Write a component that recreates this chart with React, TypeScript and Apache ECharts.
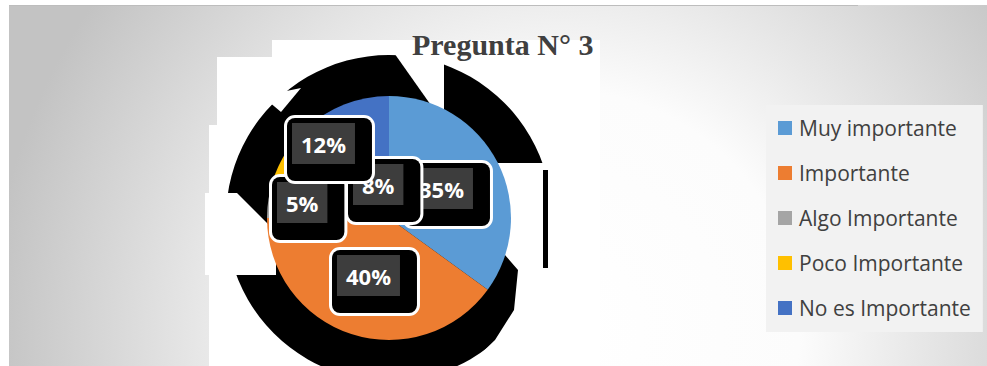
import React, { useEffect, useRef } from "react";
import * as echarts from "echarts";

const categories = ["Muy importante", "Importante", "Algo Importante", "Poco Importante", "No es Importante"];
const percentages = [35, 40, 5, 8, 12];
const colors = ["#5B9BD5", "#ED7D31", "#A5A5A5", "#FFC000", "#4472C4"];
const titleText = "Pregunta N° 3";

// label box top-left positions (layout only)
const LABEL_POS: [number, number][] = [
  [405, 163],
  [332, 250],
  [272, 177],
  [348, 159],
  [287, 118],
];

export default function App() {
  const ref = useRef<HTMLDivElement>(null);
  useEffect(() => {
    if (!ref.current) return;
    const chart = echarts.init(ref.current, undefined, { renderer: "svg" });
    const cx = 389;
    const cy = 218;
    chart.setOption({
      animation: false,
      graphic: [
        {
          type: "rect",
          z: 0,
          shape: { x: 9, y: 5, width: 978, height: 361 },
          style: {
            fill: {
              type: "radial",
              x: 560,
              y: 330,
              r: 570,
              global: true,
              colorStops: [
                { offset: 0, color: "#ffffff" },
                { offset: 0.42, color: "#fcfcfc" },
                { offset: 1, color: "#c3c3c3" },
              ],
            },
          },
        },
        { type: "line", z: 0, shape: { x1: 9, y1: 5.5, x2: 858, y2: 5.5 }, style: { stroke: "#bdbdbd", lineWidth: 1 } },
        // white panel behind pie
        {
          type: "polygon",
          z: 1,
          shape: {
            points: [
              [272, 40], [600, 40], [600, 366], [209, 366], [209, 125], [217, 125], [217, 57], [272, 57],
            ],
          },
          style: { fill: "#ffffff" },
        },
        // black shadow artefact
        { type: "circle", z: 2, shape: { cx, cy, r: 163 }, style: { fill: "#000000" } },
        // white cut-outs
        { type: "polygon", z: 3, shape: { points: [[392, 50], [444, 50], [444, 122], [440, 118]] }, style: { fill: "#ffffff" } },
        {
          type: "polygon",
          z: 3,
          shape: {
            points: [[488, 163], [600, 163], [600, 366], [468, 366], [495, 340], [514, 310], [518, 270], [505, 255], [488, 255]],
          },
          style: { fill: "#ffffff" },
        },
        { type: "polygon", z: 3, shape: { points: [[205, 193], [237, 193], [276, 232], [276, 275], [205, 275]] }, style: { fill: "#ffffff" } },
        { type: "polygon", z: 3, shape: { points: [[262, 96], [301, 88], [281, 112]] }, style: { fill: "#ffffff" } },
        { type: "rect", z: 4, shape: { x: 543, y: 170, width: 5, height: 98 }, style: { fill: "#000000" } },
        {
          type: "text",
          z: 30,
          x: 412,
          y: 29,
          style: {
            text: titleText,
            fill: "#404040",
            font: "bold 30px 'Liberation Serif', 'Times New Roman', serif",
            textVerticalAlign: "top",
          },
        },
      ],
      legend: {
        orient: "vertical",
        left: 766,
        top: 105,
        padding: [11, 12, 12, 12],
        backgroundColor: "#f2f2f2",
        itemWidth: 14,
        itemHeight: 14,
        itemGap: 21,
        icon: "rect",
        selectedMode: false,
        z: 30,
        data: categories,
        textStyle: {
          fontFamily: "Open Sans",
          fontSize: 21,
          lineHeight: 24,
          color: "#404040",
          padding: [0, 0, 0, 2],
        },
      },
      series: [
        {
          type: "pie",
          z: 10,
          center: [cx, cy],
          radius: 122,
          startAngle: 90,
          clockwise: true,
          silent: true,
          data: categories.map((name, i) => ({
            name,
            value: percentages[i],
            itemStyle: { color: colors[i] },
          })),
          itemStyle: { borderWidth: 0 },
          label: {
            show: true,
            position: "inside",
            formatter: (p: any) => `{d|${p.value}%}`,
            backgroundColor: "#000000",
            borderColor: "#ffffff",
            borderWidth: 3,
            borderRadius: 8,
            padding: [5, 17, 17, 5],
            rich: {
              d: {
                backgroundColor: "#3d3d3d",
                color: "#ffffff",
                fontFamily: "Open Sans",
                fontWeight: "bold",
                fontSize: 22,
                height: 41,
                lineHeight: 41,
                padding: [0, 9, 0, 9],
              },
            },
          },
          labelLine: { show: false },
          labelLayout: (params: any) => {
            const pos = LABEL_POS[params.dataIndex];
            return { x: pos[0], y: pos[1], align: "left", verticalAlign: "top" };
          },
        },
      ],
    });
    return () => chart.dispose();
  }, []);
  return (
    <div
      ref={ref}
      style={{ position: "fixed", left: 0, top: 0, width: 987, height: 366, background: "#ffffff" }}
    />
  );
}
